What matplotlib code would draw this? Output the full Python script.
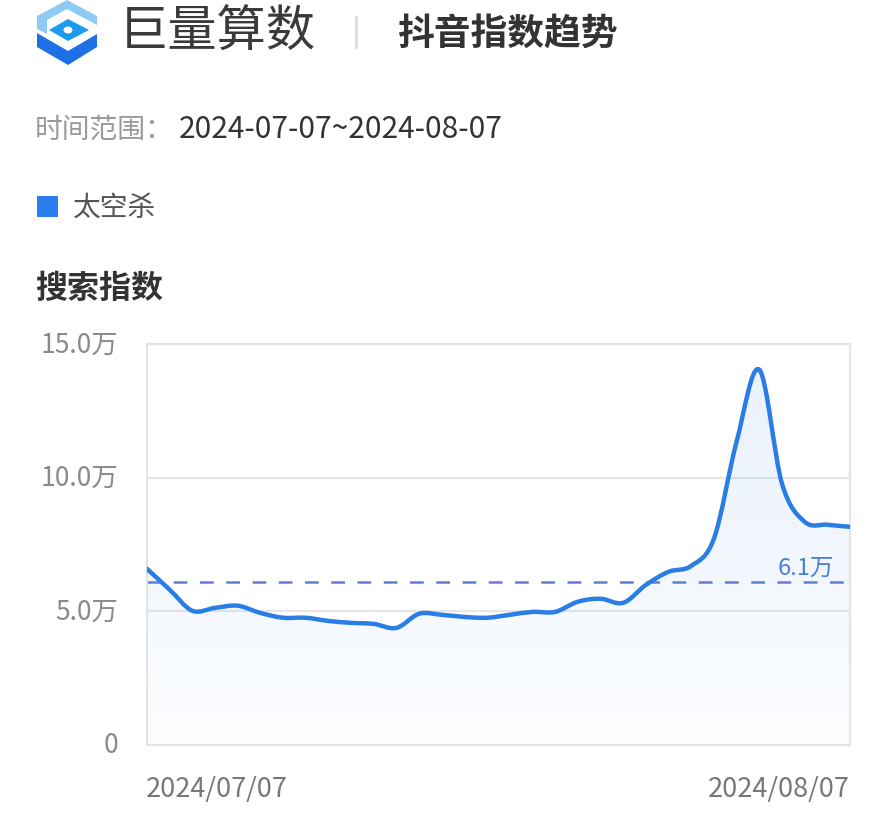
import numpy as np
import matplotlib
matplotlib.use("Agg")
import matplotlib.pyplot as plt
from matplotlib.path import Path
from matplotlib.patches import PathPatch, Polygon, Ellipse, Rectangle

plt.rcParams['font.family'] = ['Noto Sans CJK SC', 'DejaVu Sans']

# 数据（单位：万）
dates = ["2024/07/07", "2024/08/07"]
series_name = "太空杀"
values = [6.59, 5.81, 5.02, 5.13, 5.21, 4.94, 4.76, 4.76, 4.64, 4.57,
          4.53, 4.38, 4.91, 4.87, 4.79, 4.76, 4.87, 4.98, 4.98, 5.36,
          5.47, 5.32, 5.99, 6.48, 6.70, 7.72, 11.35, 14.04, 9.78, 8.35,
          8.24, 8.16]
avg_value = 6.1
yticks = [0, 5, 10, 15]
ytick_labels = ["0", "5.0万", "10.0万", "15.0万"]

W, H = 890, 829
fig = plt.figure(figsize=(W / 100, H / 100), dpi=100)
fig.patch.set_facecolor("white")


def fx(px):
    return px / W


def fy(py):
    return 1 - py / H


# ---- 标志 ----
logo = fig.add_axes([fx(37), fy(70), fx(62), 70 / H])
logo.set_xlim(0, 62)
logo.set_ylim(70, 0)
logo.axis("off")
logo.add_patch(Polygon([(0, 17), (30, 1), (60, 17), (60, 26), (30, 10),
                        (10, 21), (10, 35), (0, 30)], closed=True,
                       color="#8fcaf2", lw=0))
logo.add_patch(Polygon([(12, 31), (31, 20), (52, 31), (31, 42)], closed=True,
                       color="#1c9bec", lw=0))
logo.add_patch(Ellipse((31, 31), 9, 7, color="white", lw=0))
logo.add_patch(Polygon([(0, 34), (0, 48), (31, 66), (60, 48), (60, 35),
                        (31, 52)], closed=True, color="#1f6fe6", lw=0))

fig.text(fx(119), fy(33), "巨量算数", fontsize=35.5, color="#3a3a3a",
         va="center", ha="left")
fig.add_artist(plt.Line2D([fx(356), fx(356)], [fy(18), fy(48)],
                          color="#dcdcdc", lw=2))
fig.text(fx(397), fy(34), "抖音指数趋势", fontsize=26.5, color="#333333",
         fontweight="bold", va="center", ha="left")

fig.text(fx(35), fy(130), "时间范围：", fontsize=20, color="#9a9a9a",
         va="center", ha="left")
fig.text(fx(179), fy(130), "2024-07-07~2024-08-07", fontsize=21.5,
         color="#333333", va="center", ha="left")

fig.add_artist(Rectangle((fx(37), fy(218)), fx(21), 21 / H,
                         color="#2a7ff0", lw=0, transform=fig.transFigure))
fig.text(fx(73), fy(208), series_name, fontsize=20, color="#555555",
         va="center", ha="left")

fig.text(fx(35), fy(289), "搜索指数", fontsize=23, color="#333333",
         fontweight="bold", va="center", ha="left")

# ---- 图表 ----
ax = fig.add_axes([fx(147), fy(746), fx(850) - fx(147), (746 - 345) / H])
x = np.arange(len(values))
y = np.array(values)
ax.set_xlim(0, len(values) - 1)
ax.set_ylim(0, 15)

# 平滑曲线 (Catmull-Rom -> 贝塞尔)
pts = np.column_stack([x, y])
verts = [pts[0]]
codes = [Path.MOVETO]
n = len(pts)
for i in range(n - 1):
    p0 = pts[max(i - 1, 0)]
    p1 = pts[i]
    p2 = pts[i + 1]
    p3 = pts[min(i + 2, n - 1)]
    c1 = p1 + (p2 - p0) / 6
    c2 = p2 - (p3 - p1) / 6
    verts += [c1, c2, p2]
    codes += [Path.CURVE4] * 3

line_path = Path(verts, codes)
fill_path = Path(verts + [(x[-1], 0), (x[0], 0), pts[0]],
                 codes + [Path.LINETO, Path.LINETO, Path.CLOSEPOLY])

grad = np.linspace(0.2, 0.03, 256).reshape(-1, 1)
rgba = np.zeros((256, 1, 4))
rgba[..., 0] = 0.55
rgba[..., 1] = 0.72
rgba[..., 2] = 0.95
rgba[..., 3] = grad
img = ax.imshow(rgba, extent=[0, len(values) - 1, 0, 15], origin="upper",
                aspect="auto", zorder=1)
clip = PathPatch(fill_path, transform=ax.transData, facecolor="none",
                 edgecolor="none")
ax.add_patch(clip)
img.set_clip_path(clip)

for t in yticks[1:]:
    ax.axhline(t, color="#e6e6e6", lw=1.5, zorder=0.5)

ax.add_patch(PathPatch(line_path, facecolor="none", edgecolor="#2b7de6",
                       lw=3.2, zorder=3, capstyle="round", joinstyle="round"))

ax.axhline(avg_value, color="#5b82d2", lw=1.8, ls=(0, (5.5, 5)), zorder=2)
ax.text(len(values) - 1.7, avg_value + 0.12, f"{avg_value}万", fontsize=17,
        color="#4a7fd6", ha="right", va="bottom", zorder=4)

for s in ax.spines.values():
    s.set_color("#e4e4e4")
    s.set_linewidth(1.5)
ax.set_xticks([])
ax.set_yticks([])

for t, lab in zip(yticks, ytick_labels):
    ax.annotate(lab, xy=(0, t), xycoords=("axes fraction", "data"),
                xytext=(-29, 0), textcoords="offset pixels", fontsize=19,
                color="#8a8a8a", ha="right", va="center")

fig.text(fx(146), fy(790), dates[0], fontsize=19.5, color="#777777",
         ha="left", va="center")
fig.text(fx(850), fy(790), dates[1], fontsize=19.5, color="#777777",
         ha="right", va="center")

fig.savefig("out.png", dpi=100)
